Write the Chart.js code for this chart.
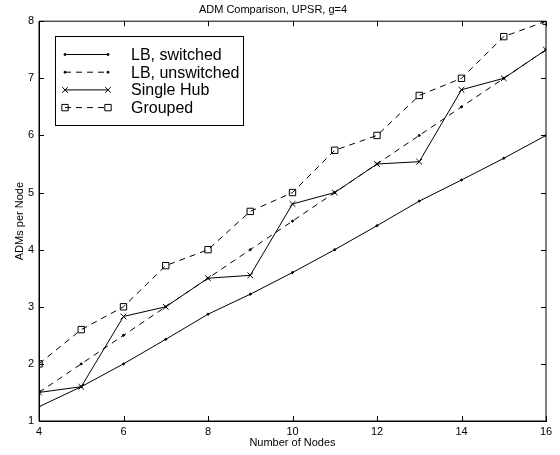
<!DOCTYPE html>
<html>
<head>
    <title>ADM Comparison</title>
    <script src="https://cdn.jsdelivr.net/npm/chart.js"></script>
    <style>
        body { margin: 0; background: #fff; }
    </style>
</head>
<body>
    <canvas id="admChart" width="560" height="455"></canvas>
    <script>
        // values
        const nodes = [4, 5, 6, 7, 8, 9, 10, 11, 12, 13, 14, 15, 16];
        const lbSwitched = [1.25, 1.6, 2.0, 2.43, 2.87, 3.22, 3.6, 4.0, 4.42, 4.85, 5.22, 5.6, 6.0];
        const lbUnswitched = [1.5, 2.0, 2.5, 3.0, 3.5, 4.0, 4.5, 5.0, 5.5, 6.0, 6.5, 7.0, 7.5];
        const singleHub = [1.5, 1.6, 2.83, 3.0, 3.5, 3.55, 4.8, 5.0, 5.5, 5.54, 6.8, 7.0, 7.5];
        const grouped = [2.0, 2.6, 3.0, 3.72, 4.0, 4.67, 5.0, 5.74, 6.0, 6.7, 7.0, 7.73, 8.0];
        const xTicks = [4, 6, 8, 10, 12, 14, 16];
        const yTicks = [1, 2, 3, 4, 5, 6, 7, 8];

        const FONT = 'Liberation Sans, Arial, Helvetica, sans-serif';
        const toXY = ys => nodes.map((n, i) => ({ x: n, y: ys[i] }));

        // MATLAB style: frame on all sides, ticks pointing inward
        const frameTicks = {
            id: 'frameTicks',
            afterDatasetsDraw(chart) {
                const { ctx, chartArea: a, scales: { x, y } } = chart;
                const len = 5;
                ctx.save();
                ctx.strokeStyle = '#000';
                ctx.lineWidth = 1;
                ctx.beginPath();
                ctx.rect(a.left, a.top, a.right - a.left, a.bottom - a.top);
                x.ticks.forEach(t => {
                    const px = Math.round(x.getPixelForValue(t.value)) + 0.5;
                    ctx.moveTo(px, a.bottom); ctx.lineTo(px, a.bottom - len);
                    ctx.moveTo(px, a.top); ctx.lineTo(px, a.top + len);
                });
                y.ticks.forEach(t => {
                    const py = Math.round(y.getPixelForValue(t.value)) + 0.5;
                    ctx.moveTo(a.left, py); ctx.lineTo(a.left + len, py);
                    ctx.moveTo(a.right, py); ctx.lineTo(a.right - len, py);
                });
                ctx.stroke();
                ctx.restore();
            }
        };

        // boxed legend in the upper left, line sample + marker
        const boxLegend = {
            id: 'boxLegend',
            afterDraw(chart) {
                const ctx = chart.ctx;
                const bx = 55, by = 36, bw = 188, bh = 89;
                ctx.save();
                ctx.fillStyle = '#fff';
                ctx.fillRect(bx, by, bw, bh);
                ctx.strokeStyle = '#000';
                ctx.lineWidth = 1;
                ctx.strokeRect(bx + 0.5, by + 0.5, bw, bh);
                chart.data.datasets.forEach((ds, i) => {
                    const cy = by + 18.5 + i * 17.7;
                    ctx.beginPath();
                    ctx.setLineDash(ds.borderDash || []);
                    ctx.moveTo(65, cy);
                    ctx.lineTo(108, cy);
                    ctx.stroke();
                    ctx.setLineDash([]);
                    [65, 108].forEach(px => {
                        ctx.fillStyle = ds.pointBackgroundColor;
                        Chart.helpers.drawPoint(ctx, {
                            pointStyle: ds.pointStyle,
                            radius: ds.pointRadius,
                            borderWidth: 1
                        }, px, cy);
                    });
                    ctx.fillStyle = '#000';
                    ctx.font = '16px ' + FONT;
                    ctx.textBaseline = 'middle';
                    ctx.fillText(ds.label, 131, cy + 1);
                });
                ctx.restore();
            }
        };

        const common = {
            borderColor: '#000',
            borderWidth: 1,
            pointBorderColor: '#000',
            pointBorderWidth: 1,
            tension: 0,
            fill: false
        };

        new Chart(document.getElementById('admChart'), {
            type: 'line',
            data: {
                datasets: [
                    { ...common, label: 'LB, switched', data: toXY(lbSwitched),
                      pointStyle: 'circle', pointRadius: 1, pointBackgroundColor: '#000' },
                    { ...common, label: 'LB, unswitched', data: toXY(lbUnswitched), borderDash: [6, 5],
                      pointStyle: 'circle', pointRadius: 1, pointBackgroundColor: '#000' },
                    { ...common, label: 'Single Hub', data: toXY(singleHub),
                      pointStyle: 'crossRot', pointRadius: 4, pointBackgroundColor: 'rgba(0,0,0,0)' },
                    { ...common, label: 'Grouped', data: toXY(grouped), borderDash: [6, 5],
                      pointStyle: 'rect', pointRadius: 4.5, pointBackgroundColor: 'rgba(0,0,0,0)' }
                ]
            },
            options: {
                responsive: false,
                animation: false,
                events: [],
                layout: { padding: { left: 0, right: 14, top: 0, bottom: 0 } },
                plugins: {
                    legend: { display: false },
                    tooltip: { enabled: false },
                    title: {
                        display: true,
                        text: 'ADM Comparison, UPSR, g=4',
                        color: '#000',
                        font: { family: FONT, size: 11, weight: 'normal', lineHeight: 1.2 },
                        padding: { top: 3, bottom: 5 }
                    }
                },
                scales: {
                    x: {
                        type: 'linear',
                        min: 4, max: 16,
                        afterBuildTicks: s => { s.ticks = xTicks.map(v => ({ value: v })); },
                        afterFit: s => { s.height = 34; },
                        grid: { display: false, drawTicks: false },
                        border: { display: true, color: '#000', width: 1 },
                        ticks: { color: '#000', padding: 4, font: { family: FONT, size: 11 } },
                        title: {
                            display: true, text: 'Number of Nodes', color: '#000',
                            font: { family: FONT, size: 11, lineHeight: 1.2 },
                            padding: { top: 0, bottom: 5 }
                        }
                    },
                    y: {
                        type: 'linear',
                        min: 1, max: 8,
                        afterBuildTicks: s => { s.ticks = yTicks.map(v => ({ value: v })); },
                        afterFit: s => { s.width = 39; },
                        grid: { display: false, drawTicks: false },
                        border: { display: true, color: '#000', width: 1 },
                        ticks: { color: '#000', padding: 5, font: { family: FONT, size: 11 } },
                        title: {
                            display: true, text: 'ADMs per Node', color: '#000',
                            font: { family: FONT, size: 11, lineHeight: 1.2 },
                            padding: { top: 13, bottom: 0 }
                        }
                    }
                }
            },
            plugins: [frameTicks, boxLegend]
        });
    </script>
</body>
</html>
